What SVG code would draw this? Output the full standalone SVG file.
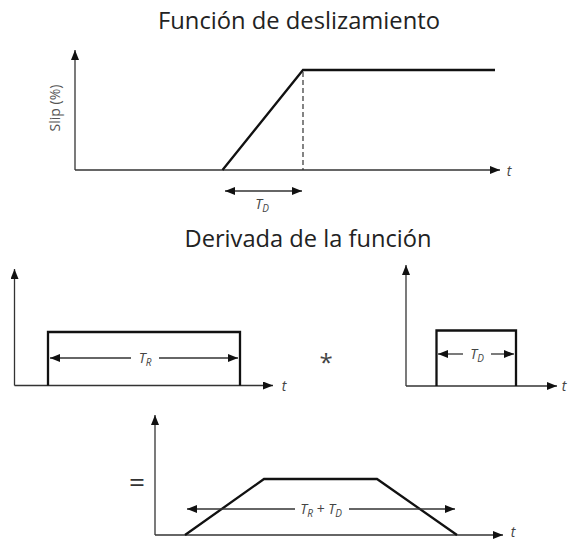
<svg xmlns="http://www.w3.org/2000/svg" width="568" height="542" viewBox="0 0 568 542">
<style>
.title{font-family:"Open Sans","Noto Sans",sans-serif;fill:#222;}
.lbl{font-family:"Open Sans","Noto Sans",sans-serif;fill:#444;font-style:italic;font-size:14px;}
.sub{font-size:10px;}
.axis{stroke:#333;stroke-width:1.3;fill:none;}
.fn{stroke:#111;stroke-width:2.3;fill:none;stroke-linejoin:miter;}
.dim{stroke:#333;stroke-width:1.3;fill:none;}
.dash{stroke:#333;stroke-width:1.2;stroke-dasharray:5,3;fill:none;}
</style>
<defs>
<marker id="ah" viewBox="0 0 10 8" refX="10" refY="4" markerWidth="10" markerHeight="8" markerUnits="userSpaceOnUse" orient="auto-start-reverse">
<path d="M0,0 L10,4 L0,8 Z" fill="#111"/>
</marker>
</defs>
<rect width="568" height="542" fill="#fff"/>

<g id="top-panel">
<text class="title" x="299" y="29" font-size="24" text-anchor="middle" textLength="282" lengthAdjust="spacingAndGlyphs">Función de deslizamiento</text>
<text x="0" y="0" transform="translate(60,108) rotate(-90)" text-anchor="middle" font-family="Open Sans, Noto Sans, sans-serif" font-size="14" fill="#555">Slip (%)</text>
<text class="lbl" x="262" y="209" text-anchor="middle">T<tspan class="sub" dy="3">D</tspan></text>
<text class="lbl" x="509" y="176" text-anchor="middle" font-size="16">t</text>
</g>

<g id="middle-left">
<text class="title" x="308" y="247" font-size="24" text-anchor="middle" textLength="247" lengthAdjust="spacingAndGlyphs">Derivada de la función</text>
<text class="lbl" x="145" y="363" text-anchor="middle">T<tspan class="sub" dy="3">R</tspan></text>
<text class="lbl" x="284" y="391" text-anchor="middle" font-size="16">t</text>
</g>

<g id="convolution-sign">
<text x="326" y="371" text-anchor="middle" font-family="Open Sans, Noto Sans, sans-serif" font-size="24" fill="#444">*</text>
</g>

<g id="middle-right">
<text class="lbl" x="477" y="359" text-anchor="middle">T<tspan class="sub" dy="3">D</tspan></text>
<text class="lbl" x="564" y="391" text-anchor="middle" font-size="16">t</text>
</g>

<g id="equals-sign">
<text x="137" y="492" text-anchor="middle" font-family="Open Sans, Noto Sans, sans-serif" font-size="28" fill="#333">=</text>
</g>

<g id="bottom-panel">
<text class="lbl" x="321" y="514" text-anchor="middle">T<tspan class="sub" dy="3">R</tspan><tspan dy="-3"> + T</tspan><tspan class="sub" dy="3">D</tspan></text>
<text class="lbl" x="513" y="537" text-anchor="middle" font-size="15">t</text>
</g>

<g id="connectors">
<!-- top -->
<path class="axis" d="M75,170 L75,50" marker-end="url(#ah)"/>
<path class="axis" d="M75,170 L500,170" marker-end="url(#ah)"/>
<path class="fn" d="M222.5,170 L303,70 L495,70"/>
<path class="dash" d="M303,72 L303,170"/>
<path class="dim" d="M225,191 L302,191" marker-start="url(#ah)" marker-end="url(#ah)"/>
<!-- middle left -->
<path class="axis" d="M14.5,385.5 L14.5,269" marker-end="url(#ah)"/>
<path class="axis" d="M14.5,385.5 L273,385.5" marker-end="url(#ah)"/>
<path class="fn" d="M48,385.5 L48,332 L240,332 L240,385.5"/>
<path class="dim" d="M50,358 L131,358"  marker-start="url(#ah)"/>
<path class="dim" d="M159,358 L238,358" marker-end="url(#ah)"/>
<!-- middle right -->
<path class="axis" d="M406,386 L406,265" marker-end="url(#ah)"/>
<path class="axis" d="M406,386 L557,386" marker-end="url(#ah)"/>
<path class="fn" d="M436.5,386 L436.5,330.5 L516,330.5 L516,386"/>
<path class="dim" d="M438,354 L463,354" marker-start="url(#ah)"/>
<path class="dim" d="M491,354 L514,354" marker-end="url(#ah)"/>
<!-- bottom -->
<path class="axis" d="M155,535 L155,415" marker-end="url(#ah)"/>
<path class="axis" d="M155,535 L503,535" marker-end="url(#ah)"/>
<path class="fn" d="M185,535 L264,479 L377,479 L457,535"/>
<path class="dim" d="M187,509 L295,509" marker-start="url(#ah)"/>
<path class="dim" d="M349,509 L455,509" marker-end="url(#ah)"/>
</g>
</svg>
